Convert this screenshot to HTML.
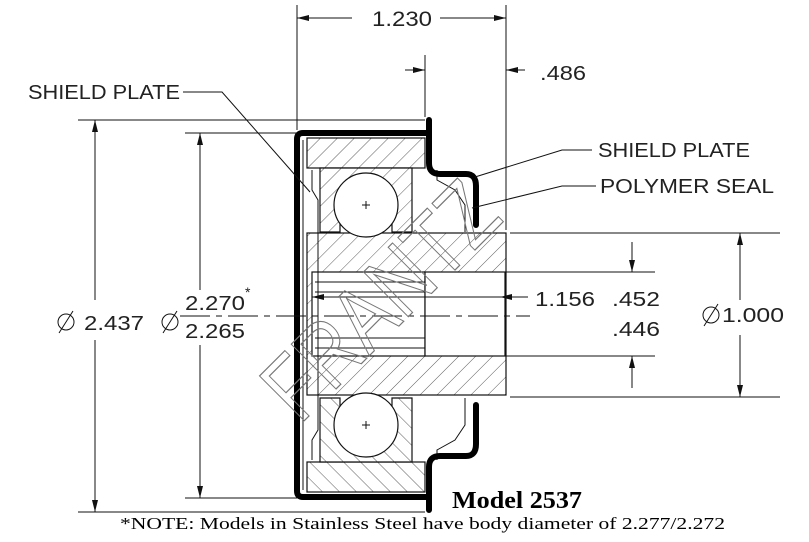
<!DOCTYPE html>
<html><head><meta charset="utf-8"><style>
html,body{margin:0;padding:0;background:#fff;}
svg{display:block;}
.t{font-family:"Liberation Sans",sans-serif;fill:#222;}
</style></head><body>
<svg width="809" height="542" viewBox="0 0 809 542" xmlns="http://www.w3.org/2000/svg">
<defs>
<pattern id="h" width="12" height="12" patternUnits="userSpaceOnUse" patternTransform="rotate(45)">
<rect width="12" height="12" fill="#fff"/><line x1="0" y1="0" x2="0" y2="12" stroke="#333" stroke-width="0.8"/></pattern>
<pattern id="h2" width="12" height="12" patternUnits="userSpaceOnUse" patternTransform="rotate(-45)">
<rect width="12" height="12" fill="#fff"/><line x1="0" y1="0" x2="0" y2="12" stroke="#333" stroke-width="0.8"/></pattern>
<marker id="a" markerWidth="12" markerHeight="6" refX="12" refY="3" orient="auto" markerUnits="userSpaceOnUse"><path d="M0,0 L12,3 L0,6 z" fill="#111"/></marker>
</defs>
<g stroke="#111" stroke-width="1.2">
<rect x="307" y="138" width="118" height="30" fill="url(#h)"/>
<rect x="307" y="462" width="118" height="30" fill="url(#h2)"/>
<path d="M320,168 L320,232 L340,232 L340,205 A26,26 0 0 1 392,205 L392,232 L412,232 L412,168 Z" fill="url(#h)"/>
<path d="M320,462 L320,398 L340,398 L340,425 A26,26 0 0 0 392,425 L392,398 L412,398 L412,462 Z" fill="url(#h2)"/>
<rect x="307" y="233" width="199" height="162" fill="url(#h)"/>
<rect x="312" y="272" width="113" height="84" fill="#fff"/>
<rect x="425" y="272" width="80" height="84" fill="#fff"/>
<circle cx="366" cy="205" r="32" fill="#fff"/>
<circle cx="366" cy="425" r="32" fill="#fff"/>
</g>
<g stroke="#111" stroke-width="1" fill="none">
<line x1="315" y1="282" x2="425" y2="282"/><line x1="315" y1="292" x2="425" y2="292"/>
<line x1="315" y1="338" x2="425" y2="338"/><line x1="315" y1="348" x2="425" y2="348"/>
<line x1="362" y1="205" x2="370" y2="205"/><line x1="366" y1="201" x2="366" y2="209"/>
<line x1="362" y1="425" x2="370" y2="425"/><line x1="366" y1="421" x2="366" y2="429"/>
<line x1="303" y1="140" x2="303" y2="490"/>
<path d="M312,170 L312,190 L318,200 L318,430 L312,440 L312,460"/>
<path d="M437,170 L437,180 L455,190 L465,205 L465,232"/>
<path d="M437,460 L437,450 L455,440 L465,425 L465,398"/>
</g>
<g stroke="#000" stroke-width="6" fill="none" stroke-linejoin="round" stroke-linecap="round">
<path d="M429,133 L303,133 Q297,133 297,139 L297,491 Q297,497 303,497 L429,497"/>
<path d="M429,120 L429,163 Q429,174 440,174 L466,174 Q476,174 476,186 L476,225"/>
<path d="M429,510 L429,467 Q429,456 440,456 L466,456 Q476,456 476,444 L476,405"/>
</g>
<g stroke="#111" stroke-width="1" fill="none">
<line x1="297" y1="5" x2="297" y2="130"/>
<line x1="506" y1="5" x2="506" y2="230"/>
<line x1="425" y1="55" x2="425" y2="117"/>
<line x1="78" y1="120" x2="425" y2="120"/>
<line x1="78" y1="512" x2="425" y2="512"/>
<line x1="185" y1="133" x2="297" y2="133"/>
<line x1="185" y1="498" x2="297" y2="498"/>
<line x1="510" y1="233" x2="780" y2="233"/>
<line x1="510" y1="397" x2="780" y2="397"/>
<line x1="430" y1="272" x2="655" y2="272"/>
<line x1="430" y1="356" x2="655" y2="356"/>
<line x1="352" y1="18" x2="297" y2="18" marker-end="url(#a)"/>
<line x1="440" y1="18" x2="506" y2="18" marker-end="url(#a)"/>
<line x1="405" y1="70" x2="425" y2="70" marker-end="url(#a)"/>
<line x1="525" y1="70" x2="506" y2="70" marker-end="url(#a)"/>
<line x1="95" y1="300" x2="95" y2="120" marker-end="url(#a)"/>
<line x1="95" y1="340" x2="95" y2="512" marker-end="url(#a)"/>
<line x1="200" y1="290" x2="200" y2="133" marker-end="url(#a)"/>
<line x1="200" y1="345" x2="200" y2="498" marker-end="url(#a)"/>
<line x1="740" y1="300" x2="740" y2="233" marker-end="url(#a)"/>
<line x1="740" y1="335" x2="740" y2="397" marker-end="url(#a)"/>
<line x1="632" y1="242" x2="632" y2="272" marker-end="url(#a)"/>
<line x1="632" y1="388" x2="632" y2="356" marker-end="url(#a)"/>
<line x1="345" y1="297" x2="312" y2="297" marker-end="url(#a)"/>
<line x1="528" y1="297" x2="500" y2="297" marker-end="url(#a)"/>
<line x1="345" y1="297" x2="500" y2="297"/>
<line x1="180" y1="316" x2="530" y2="316" stroke-dasharray="30,6,6,6"/>
<polyline points="183,92 222,92 310,192"/>
<polyline points="592,150 562,150 475,177"/>
<polyline points="596,186 562,186 472,208"/>
<!-- diameter symbols -->
<circle cx="66" cy="322" r="8"/><line x1="59" y1="333" x2="73" y2="311"/>
<circle cx="170" cy="322" r="8"/><line x1="163" y1="333" x2="177" y2="311"/>
<circle cx="711" cy="315" r="8"/><line x1="704" y1="326" x2="718" y2="304"/>
</g>
<text x="0" y="0" transform="translate(300,425) rotate(-45)" font-family="Liberation Sans,sans-serif" font-size="92" textLength="290" lengthAdjust="spacingAndGlyphs" fill="none" stroke="#777" stroke-width="1.2">FRANTZ</text>
<g class="t" font-size="20">
<text x="372" y="26" font-size="21" textLength="60" lengthAdjust="spacingAndGlyphs">1.230</text>
<text x="540" y="80" textLength="46" lengthAdjust="spacingAndGlyphs">.486</text>
<text x="28" y="99" textLength="152" lengthAdjust="spacingAndGlyphs">SHIELD PLATE</text>
<text x="598" y="157" textLength="152" lengthAdjust="spacingAndGlyphs">SHIELD PLATE</text>
<text x="600" y="193" textLength="174" lengthAdjust="spacingAndGlyphs">POLYMER SEAL</text>
<text x="84" y="330" textLength="60" lengthAdjust="spacingAndGlyphs">2.437</text>
<text x="185" y="310" textLength="60" lengthAdjust="spacingAndGlyphs">2.270</text>
<text x="245" y="297" font-size="14">*</text>
<text x="185" y="338" textLength="60" lengthAdjust="spacingAndGlyphs">2.265</text>
<text x="535" y="306" textLength="60" lengthAdjust="spacingAndGlyphs">1.156</text>
<text x="612" y="306" textLength="48" lengthAdjust="spacingAndGlyphs">.452</text>
<text x="612" y="336" textLength="48" lengthAdjust="spacingAndGlyphs">.446</text>
<text x="722" y="322" textLength="62" lengthAdjust="spacingAndGlyphs">1.000</text>
</g>
<text x="452" y="508" font-family="Liberation Serif,serif" font-weight="bold" font-size="24" textLength="130" lengthAdjust="spacingAndGlyphs" fill="#000">Model 2537</text>
<text x="120" y="529" font-family="Liberation Serif,serif" font-size="17" textLength="605" lengthAdjust="spacingAndGlyphs" fill="#000">*NOTE: Models in Stainless Steel have body diameter of 2.277/2.272</text>
</svg>
</body></html>
